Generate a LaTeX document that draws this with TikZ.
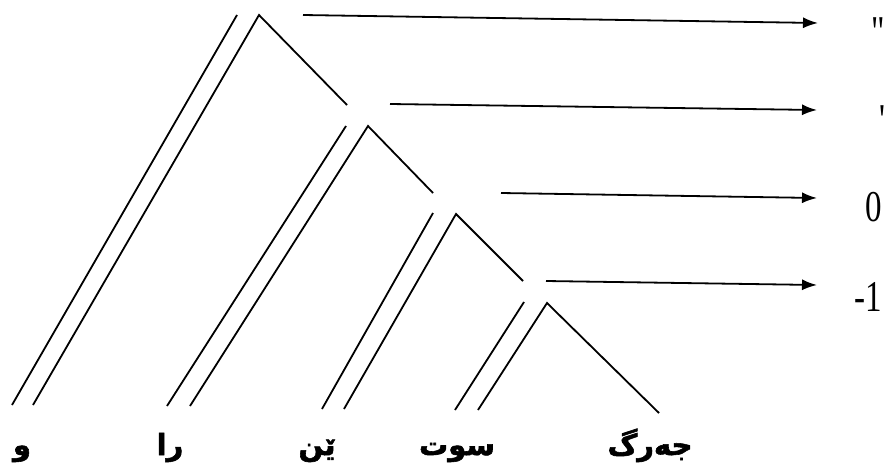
\documentclass[tikz,border=0pt]{standalone}
\usepackage{fontspec}
\usetikzlibrary{arrows.meta}
\newfontfamily\kufont[Script=Arabic,BoldFont={DejaVu Sans Bold},BoldFeatures={FakeBold=2}]{DejaVu Sans}
\newfontfamily\numfont{Liberation Serif}
\TeXXeTstate=1

\begin{document}
\begin{tikzpicture}[x=1pt,y=-1pt,
  ln/.style={line width=1.8pt},
  ar/.style={-{Latex[length=15pt,width=11pt]},line width=1.8pt},
  wd/.style={font=\kufont\bfseries\fontsize{29}{29}\selectfont,inner sep=0,anchor=base},
  lv/.style={font=\numfont\fontsize{44}{44}\selectfont,xscale=0.75,inner sep=0},
]
\useasboundingbox (0,0) rectangle (886,466);

% Branch points
\coordinate (o1) at (237,15);  \coordinate (p1) at (259,15);
\coordinate (o2) at (346,126); \coordinate (p2) at (368,126);
\coordinate (o3) at (433,213); \coordinate (p3) at (456,214);
\coordinate (o4) at (524,302); \coordinate (p4) at (547,303);
% Feet
\coordinate (f1) at (12,405);  \coordinate (g1) at (33,405);
\coordinate (f2) at (167,406); \coordinate (g2) at (190,406);
\coordinate (f3) at (322,409); \coordinate (g3) at (344,409);
\coordinate (f4) at (455,410); \coordinate (g4) at (478,410);
\coordinate (r1) at (347,105); \coordinate (r2) at (433,193);
\coordinate (r3) at (523,281); \coordinate (r4) at (659,413);

\foreach \i in {1,...,4}{
  \draw[ln] (o\i)--(f\i);
  \draw[ln] (g\i)--(p\i)--(r\i);
}

% Words
\node[wd] (w1) at (22,455) {\kufont\beginR و\endR};
\node[wd] (w2) at (170,455) {\kufont\beginR را\endR};
\node[wd] (w3) at (317,455) {\kufont\beginR ێن\endR};
\node[wd] (w4) at (457,455) {\kufont\beginR سوت\endR};
\node[wd] (w5) at (650,455) {\kufont\beginR جەرگ\endR};

% Levels
\node[lv] (l1) at (878,32) {"};
\node[lv] (l2) at (882,120) {'};
\node[lv] (l3) at (874,207) {0};
\node[lv] (l4) at (868,297) {-1};

\coordinate (s1) at (303,15);  \coordinate (e1) at (818,23);
\coordinate (s2) at (390,104); \coordinate (e2) at (817,110);
\coordinate (s3) at (501,193); \coordinate (e3) at (817,198);
\coordinate (s4) at (546,281); \coordinate (e4) at (817,285);
\foreach \i in {1,...,4}
  \draw[ar] (s\i)--(e\i);
\end{tikzpicture}
\end{document}
